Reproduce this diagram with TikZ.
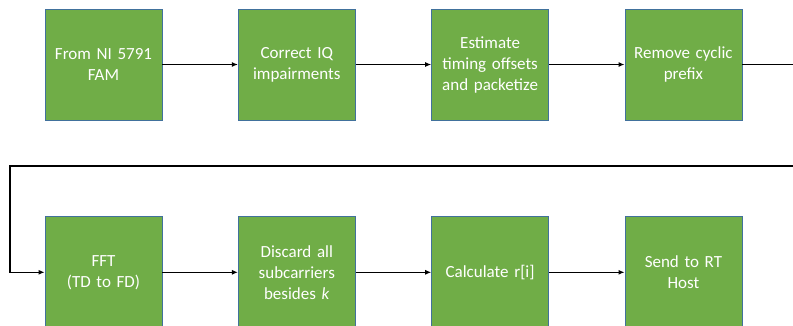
\documentclass[tikz,border=0pt]{standalone}
\usepackage{fontspec}
\setmainfont{Carlito}
\usepackage{xcolor}
\usepackage{tikz}
\usetikzlibrary{arrows.meta,positioning,calc}
\definecolor{boxgreen}{RGB}{112,173,71}
\definecolor{boxedge}{RGB}{65,113,156}
\tikzset{
  stepbox/.style={rectangle, draw=boxedge, line width=0.8pt, fill=boxgreen, align=center,
                  text=white, inner sep=3pt, minimum width=117pt, minimum height=111pt,
                  text width=108pt, font=\fontsize{17}{21}\selectfont},
  flowarr/.style={-{Latex[length=6pt,width=5pt]}, line width=1.1pt, draw=black},
}
\begin{document}
\begin{tikzpicture}[node distance=75.5pt and 75.5pt]
    \useasboundingbox (0,0) rectangle (793pt,-325pt);
    \clip (0,0) rectangle (793pt,-325pt);
    % top row
    \node[stepbox] at (103.5pt,-64.5pt) (fam) {From NI 5791\\FAM};
    \node[stepbox, right=of fam] (iq)  {Correct IQ\\impairments};
    \node[stepbox, right=of iq]  (est) {Estimate\\timing offsets\\and packetize};
    \node[stepbox, right=of est] (rem) {Remove cyclic\\prefix};
    % bottom row
    \node[stepbox, below=96pt of fam] (fft)  {FFT\\(TD to FD)};
    \node[stepbox, right=of fft]      (disc) {Discard all\\subcarriers\\besides \textit{k}};
    \node[stepbox, right=of disc]     (calc) {Calculate r[i]};
    \node[stepbox, right=of calc]     (send) {Send to RT\\Host};
    % wrap-around from end of top row to start of bottom row
    \coordinate (wrapR) at (830pt,-166pt);
    \coordinate (wrapL) at (10pt,-166pt);
    \draw[flowarr] (fam) -- (iq);
    \draw[flowarr] (iq) -- (est);
    \draw[flowarr] (est) -- (rem);
    \draw[flowarr] (rem.east) -| (wrapR) -- (wrapL) |- (fft.west);
    \draw[flowarr] (fft) -- (disc);
    \draw[flowarr] (disc) -- (calc);
    \draw[flowarr] (calc) -- (send);
\end{tikzpicture}
\end{document}
